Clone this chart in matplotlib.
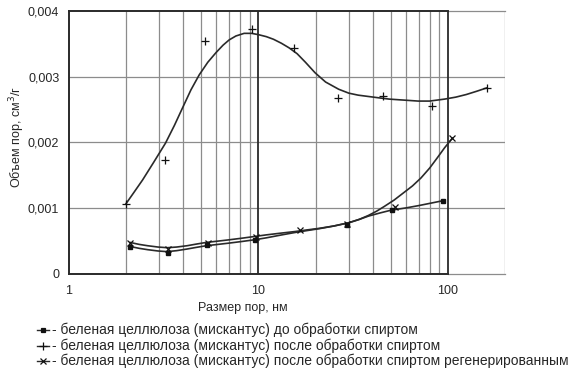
import matplotlib
matplotlib.use("Agg")
import matplotlib.pyplot as plt
from matplotlib.lines import Line2D

plt.rcParams['font.family'] = ['Liberation Sans', 'DejaVu Sans']

# ---- measured points ----
s1_x = [2.09, 3.32, 5.32, 9.55, 29.3, 50.4, 94.2]
s1_y = [0.000415, 0.000315, 0.000441, 0.000517, 0.000745, 0.000973, 0.001115]

s2_x = [2.0, 3.23, 5.24, 9.25, 15.4, 26.2, 45.2, 82.7, 160]
s2_y = [0.00107, 0.001735, 0.00355, 0.00373, 0.00344, 0.00267, 0.00270, 0.00255, 0.00283]

s3_x = [2.1, 3.32, 5.39, 9.67, 16.5, 29.3, 52.5, 105.4]
s3_y = [0.000476, 0.000375, 0.000476, 0.000567, 0.000669, 0.000756, 0.001014, 0.002064]

# ---- fitted curves ----
c1_x = [2.09, 2.35, 2.6, 2.95, 3.3, 3.7, 4.2, 4.7, 5.3, 6.1, 7, 8.2, 9.5, 11, 13, 15.5,
        18, 21, 25, 30, 34, 38, 44, 50, 60, 70, 82, 94.2]
c1_y = [0.000420, 0.000390, 0.000370, 0.000350, 0.000340, 0.000355, 0.000380, 0.000405,
        0.000430, 0.000450, 0.000470, 0.000495, 0.000520, 0.000550, 0.000590, 0.000630,
        0.000660, 0.000690, 0.000730, 0.000780, 0.000830, 0.000880, 0.000930, 0.000970,
        0.001005, 0.001040, 0.001080, 0.001115]

c2_x = [2.0, 2.2, 2.445, 2.8, 3.23, 3.6, 3.92, 4.4, 4.87, 5.4, 5.98, 6.5, 7.0, 7.6, 8.4,
        9.2, 10, 11, 12, 13.2, 14.5, 16, 17.7, 19.9, 22.6, 26.5, 30, 33.6, 38, 43, 49, 55,
        62, 69.6, 80, 96, 110, 125, 142, 160]
c2_y = [0.00107, 0.00124, 0.00143, 0.00170, 0.00199, 0.00226, 0.00249, 0.00280, 0.00303,
        0.00322, 0.00337, 0.00348, 0.00356, 0.00362, 0.00366, 0.00366, 0.00364, 0.00361,
        0.00357, 0.00351, 0.00344, 0.00335, 0.00322, 0.00306, 0.00292, 0.00281, 0.00275,
        0.00272, 0.00270, 0.00268, 0.00266, 0.00265, 0.00264, 0.00263, 0.00263, 0.00266,
        0.00269, 0.00273, 0.00278, 0.00283]

c3_x = [2.1, 2.35, 2.6, 2.95, 3.3, 3.7, 4.2, 4.7, 5.3, 6.1, 7, 8.2, 9.5, 11, 13, 15.5,
        18, 21, 25, 30, 34, 38, 42, 46, 52, 58, 65, 72, 80, 88, 96, 105.4]
c3_y = [0.000480, 0.000450, 0.000430, 0.000410, 0.000400, 0.000410, 0.000430, 0.000455,
        0.000480, 0.000500, 0.000520, 0.000545, 0.000570, 0.000595, 0.000620, 0.000645,
        0.000670, 0.000695, 0.000730, 0.000780, 0.000830, 0.000890, 0.000955, 0.001025,
        0.001125, 0.001230, 0.001340, 0.001460, 0.001610, 0.001770, 0.001920, 0.002064]

x_ticks = [1, 10, 100]
x_ticklabels = ['1', '10', '100']
y_ticks = [0, 0.001, 0.002, 0.003, 0.004]
y_ticklabels = ['0', '0,001', '0,002', '0,003', '0,004']

legend_labels = [
    '- беленая целлюлоза (мискантус) до обработки спиртом',
    '- беленая целлюлоза (мискантус) после обработки спиртом',
    '- беленая целлюлоза (мискантус) после обработки спиртом регенерированным',
]

W, H = 574, 376
fig = plt.figure(figsize=(W / 100, H / 100), dpi=100)
ax = fig.add_axes([69 / W, 1 - 274 / H, (505 - 69) / W, (274 - 11) / H])

ax.set_xscale('log')
ax.set_xlim(1, 200)
ax.set_ylim(0, 0.004)

grid_c = '#8c8c8c'
dark = '#2a2a2a'
text_c = '#262626'

# grid
minor = [m * d for d in (1, 10) for m in range(2, 10)] + [200]
for v in minor:
    ax.axvline(v, color=grid_c, lw=0.9, zorder=1)
for v in [0.001, 0.002, 0.003]:
    ax.axhline(v, color=grid_c, lw=0.9, zorder=1)
for v in [10, 100]:
    ax.axvline(v, color=dark, lw=1.3, zorder=2)
ax.plot([1, 100], [0.004, 0.004], color=dark, lw=1.4, zorder=2, clip_on=False)
ax.plot([1, 100], [0, 0], color=dark, lw=1.4, zorder=2, clip_on=False)
ax.plot([100, 200], [0.004, 0.004], color=grid_c, lw=0.9, zorder=1, clip_on=False)
ax.plot([100, 200], [0, 0], color=grid_c, lw=0.9, zorder=1, clip_on=False)
for s in ['top', 'bottom', 'right']:
    ax.spines[s].set_visible(False)
ax.spines['left'].set_color(dark)
ax.spines['left'].set_linewidth(1.4)

# curves
for cx, cy in [(c1_x, c1_y), (c2_x, c2_y), (c3_x, c3_y)]:
    ax.plot(cx, cy, color=dark, lw=1.2, zorder=3, solid_joinstyle='round')

# markers
ax.plot(s1_x, s1_y, ls='none', marker='s', ms=2.4, color='#111111', zorder=4)
ax.plot(s2_x, s2_y, ls='none', marker='+', ms=5.2, mew=0.9, color='#111111', zorder=4)
ax.plot(s3_x, s3_y, ls='none', marker='x', ms=3.8, mew=0.9, color='#111111', zorder=4)

ax.set_xticks(x_ticks)
ax.set_xticklabels(x_ticklabels)
ax.xaxis.set_minor_locator(matplotlib.ticker.NullLocator())
ax.set_yticks(y_ticks)
ax.set_yticklabels(y_ticklabels)
ax.tick_params(length=0, labelsize=9, colors=text_c, pad=7)
ax.tick_params(axis='x', pad=8)

fig.text(243 / W, 1 - 308 / H, 'Размер пор, нм', ha='center', va='center',
         fontsize=9, color=text_c)
fig.text(17 / W, 1 - 137 / H, 'Объем пор, см$^3$/г', ha='center', va='center',
         rotation=90, fontsize=9, color=text_c)

# legend
rows_y = [330, 346, 361]
markers = [('s', 2.2), ('+', 5.5), ('x', 3.8)]
for yy, (mk, ms), lab in zip(rows_y, markers, legend_labels):
    fy = 1 - yy / H
    fig.add_artist(Line2D([37 / W, 49 / W], [fy, fy], color=dark, lw=1.0,
                          transform=fig.transFigure))
    fig.add_artist(Line2D([43 / W], [fy], ls='none', marker=mk, ms=ms, mew=0.9,
                          color='#111111', transform=fig.transFigure))
    fig.text(52 / W, fy, lab, ha='left', va='center', fontsize=10, color=text_c)

fig.savefig('out.png', dpi=100)
